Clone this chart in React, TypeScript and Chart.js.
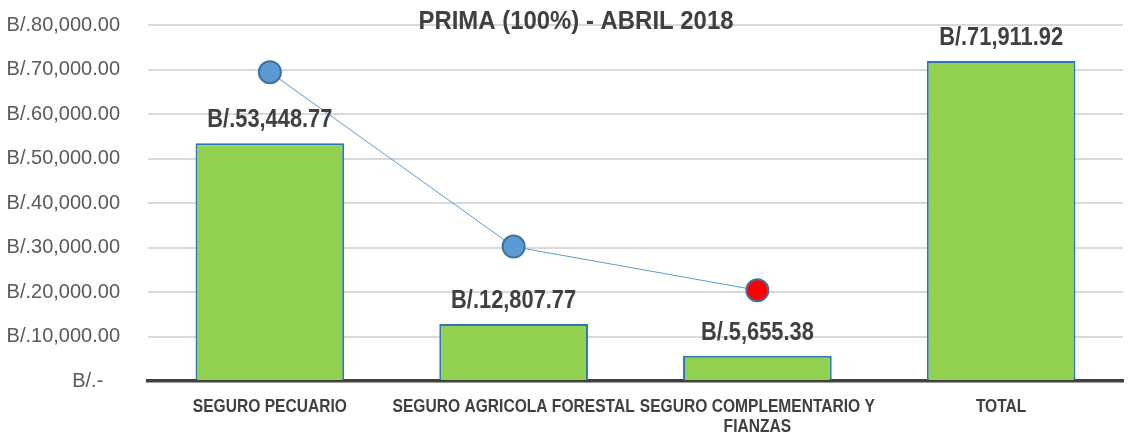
import React, { useEffect, useRef } from "react";
import { Chart, registerables } from "chart.js";

Chart.register(...registerables);

const TITLE = "PRIMA (100%) - ABRIL 2018";
const categories: (string | string[])[] = [
  "SEGURO PECUARIO",
  "SEGURO AGRICOLA FORESTAL",
  ["SEGURO COMPLEMENTARIO Y", "FIANZAS"],
  "TOTAL",
];
const barValues = [53448.77, 12807.77, 5655.38, 71911.92];
const lineValues: (number | null)[] = [69400, 30200, 20400, null];
const pointColors = ["#5B9BD5", "#5B9BD5", "#FF0000", "#5B9BD5"];
const yTickMin = 0;
const yTickMax = 80000;
const yTickStep = 10000;

const SANS = "'Liberation Sans', Arial, sans-serif";

const fmt = (v: number) =>
  "B/." + v.toLocaleString("en-US", { minimumFractionDigits: 2, maximumFractionDigits: 2 });

function narrowText(ctx: CanvasRenderingContext2D, text: string, x: number, y: number, sx: number) {
  ctx.save();
  ctx.translate(x, y);
  ctx.scale(sx, 1);
  ctx.fillText(text, 0, 0);
  ctx.restore();
}

const labelPlugin = {
  id: "barLabelsAndTitle",
  afterDatasetsDraw(chart: any) {
    const ctx = chart.ctx as CanvasRenderingContext2D;
    ctx.save();
    ctx.fillStyle = "#404040";
    ctx.textAlign = "center";
    ctx.textBaseline = "alphabetic";
    // value labels above bars
    ctx.font = `bold 26px ${SANS}`;
    const meta = chart.getDatasetMeta(0);
    meta.data.forEach((el: any, i: number) => {
      narrowText(ctx, fmt(barValues[i]), el.x, el.y - 16, 0.84);
    });
    // title
    ctx.font = `bold 26px ${SANS}`;
    narrowText(ctx, TITLE, chart.width / 2 + 8, 29, 0.92);
    // category labels
    const xs = chart.scales.x;
    const bottom = chart.chartArea.bottom;
    ctx.font = `bold 19px ${SANS}`;
    categories.forEach((lab, i) => {
      const lines = Array.isArray(lab) ? lab : [lab];
      const px = xs.getPixelForTick(i);
      lines.forEach((ln, j) => {
        narrowText(ctx, ln, px, bottom + 31 + j * 19.5, 0.82);
      });
    });
    ctx.restore();
  },
};

export default function App() {
  const ref = useRef<HTMLCanvasElement>(null);
  useEffect(() => {
    if (!ref.current) return;
    const chart = new Chart(ref.current, {
      type: "bar",
      data: {
        labels: categories,
        datasets: [
          {
            type: "bar",
            data: barValues,
            backgroundColor: "#92D050",
            borderColor: "#2E75B6",
            borderWidth: 2,
            barPercentage: 0.61,
            categoryPercentage: 1,
            order: 2,
          },
          {
            type: "line",
            data: lineValues,
            borderColor: "#5B9BD5",
            borderWidth: 1,
            pointRadius: 11,
            pointBackgroundColor: pointColors,
            pointBorderColor: "#41719C",
            pointBorderWidth: 2,
            order: 1,
          } as any,
        ],
      },
      plugins: [labelPlugin],
      options: {
        animation: false,
        responsive: true,
        maintainAspectRatio: false,
        layout: { padding: { top: 25, right: 0, bottom: 0, left: 0 } },
        plugins: { legend: { display: false }, tooltip: { enabled: false }, title: { display: false } },
        scales: {
          x: {
            grid: { display: false, drawTicks: false },
            border: { display: true, color: "#404040", width: 3.5 },
            ticks: { display: false },
            afterFit: (s: any) => {
              s.height = 55;
            },
          },
          y: {
            min: yTickMin,
            max: yTickMax,
            grid: {
              color: (c: any) => (c.tick && c.tick.value === 0 ? "rgba(0,0,0,0)" : "#D9D9D9"),
              lineWidth: 2,
              drawTicks: false,
            },
            border: { display: false },
            ticks: {
              stepSize: yTickStep,
              color: "#595959",
              font: { family: SANS, size: 20 },
              padding: 28,
              callback: (v: any) => (Number(v) === 0 ? "B/.-   " : fmt(Number(v))),
            },
            afterFit: (s: any) => {
              s.width = 148;
              s.paddingTop = 0;
              s.paddingBottom = 0;
            },
          },
        },
      },
    });
    return () => chart.destroy();
  }, []);
  return (
    <div style={{ position: "fixed", left: 0, top: 0, width: 1136, height: 436, background: "#fff" }}>
      <canvas ref={ref} />
    </div>
  );
}
